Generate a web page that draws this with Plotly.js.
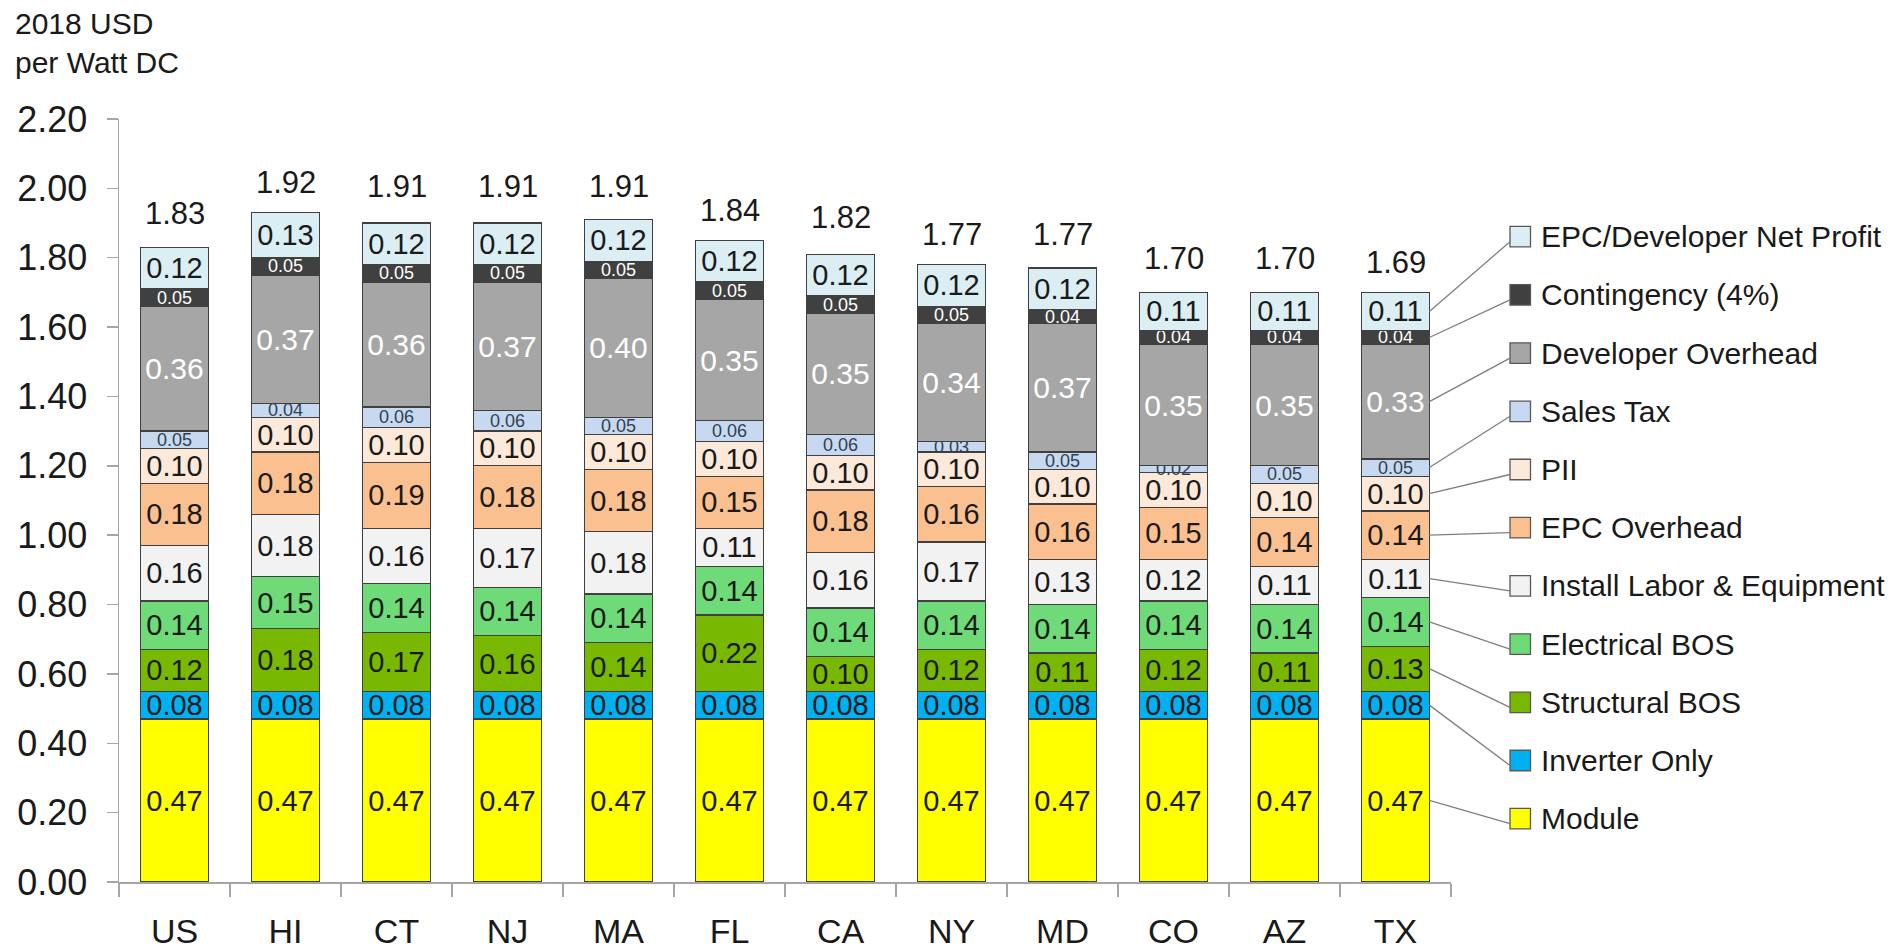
<!DOCTYPE html>
<html>
<head>
<meta charset="utf-8">
<script src="https://cdn.plot.ly/plotly-3.0.1.min.js"></script>
<style>html,body{margin:0;padding:0;background:#fff;}#chart{width:1897px;height:951px;}</style>
</head>
<body>
<div id="chart"></div>
<script>
// ---------------- DATA ----------------
const states = ["US","HI","CT","NJ","MA","FL","CA","NY","MD","CO","AZ","TX"];

// series, bottom of stack to top
const module_      = [0.47,0.47,0.47,0.47,0.47,0.47,0.47,0.47,0.47,0.47,0.47,0.47];
const inverterOnly = [0.08,0.08,0.08,0.08,0.08,0.08,0.08,0.08,0.08,0.08,0.08,0.08];
const structuralBOS= [0.12,0.18,0.17,0.16,0.14,0.22,0.10,0.12,0.11,0.12,0.11,0.13];
const electricalBOS= [0.14,0.15,0.14,0.14,0.14,0.14,0.14,0.14,0.14,0.14,0.14,0.14];
const installLabor = [0.16,0.18,0.16,0.17,0.18,0.11,0.16,0.17,0.13,0.12,0.11,0.11];
const epcOverhead  = [0.18,0.18,0.19,0.18,0.18,0.15,0.18,0.16,0.16,0.15,0.14,0.14];
const pii          = [0.10,0.10,0.10,0.10,0.10,0.10,0.10,0.10,0.10,0.10,0.10,0.10];
const salesTax     = [0.05,0.04,0.06,0.06,0.05,0.06,0.06,0.03,0.05,0.02,0.05,0.05];
const devOverhead  = [0.36,0.37,0.36,0.37,0.40,0.35,0.35,0.34,0.37,0.35,0.35,0.33];
const contingency  = [0.05,0.05,0.05,0.05,0.05,0.05,0.05,0.05,0.04,0.04,0.04,0.04];
const netProfit    = [0.12,0.13,0.12,0.12,0.12,0.12,0.12,0.12,0.12,0.11,0.11,0.11];
const totals       = [1.83,1.92,1.91,1.91,1.91,1.84,1.82,1.77,1.77,1.70,1.70,1.69];

const seriesNames = ["Module","Inverter Only","Structural BOS","Electrical BOS",
  "Install Labor & Equipment","EPC Overhead","PII","Sales Tax",
  "Developer Overhead","Contingency (4%)","EPC/Developer Net Profit"];
const seriesValues = [module_,inverterOnly,structuralBOS,electricalBOS,installLabor,
  epcOverhead,pii,salesTax,devOverhead,contingency,netProfit];

// ---------------- STYLE ----------------
const colors = ["#FFFF00","#00B0F0","#78B800","#6FDA78","#F2F2F2","#FAC090",
  "#FDE9D9","#C6D9F1","#A6A6A6","#404040","#DAEEF3"];
const labelColors = ["#1a1a1a","#1a1a1a","#1a1a1a","#1a1a1a","#1a1a1a","#1a1a1a",
  "#1a1a1a","#333f4f","#ffffff","#ffffff","#1a1a1a"];
const labelSizes = [29,29,29,29,29,29,29,18,30,18,29];

const W = 1897, H = 951;
const M = {l:119, r:446, t:119, b:69};
const plotW = W - M.l - M.r, plotH = H - M.t - M.b;
const YMAX = 2.2;
const BARGAP = 0.39;
const SANS = "'Liberation Sans',Arial,sans-serif";

const pxX = px => (px - M.l) / plotW;
const pxY = py => (H - M.b - py) / plotH;

// ---------------- TRACES ----------------
const traces = seriesValues.map((vals, i) => ({
  type: "bar",
  name: seriesNames[i],
  x: states,
  y: vals,
  marker: {color: colors[i], line: {color: "#404040", width: 1.3}},
  texttemplate: "%{y:.2f}",
  textposition: "inside",
  insidetextanchor: "middle",
  textangle: 0,
  constraintext: "none",
  cliponaxis: false,
  textfont: {family: SANS, size: labelSizes[i], color: labelColors[i]},
  hoverinfo: "skip",
  showlegend: false
}));

// ---------------- ANNOTATIONS / SHAPES ----------------
const annotations = [];
const shapes = [];

// totals above bars
states.forEach((s, i) => {
  annotations.push({
    xref: "x", yref: "y", x: s, y: totals[i],
    text: totals[i].toFixed(2), showarrow: false,
    yanchor: "bottom", yshift: 14,
    font: {family: SANS, size: 31, color: "#1a1a1a"}
  });
});

// custom legend (top to bottom) with leader lines from last bar
const LEG_TOP_PX = 236.7, LEG_STEP_PX = 58.2;
const SQ_X0 = 1510, SQ_SIZE = 20.5, TXT_X = 1539;
const nCat = states.length;
const last = nCat - 1;
const barEdgePaper = (last + 0.5 + (1 - BARGAP) / 2) / nCat;

const order = seriesNames.map((_, i) => i).reverse();
order.forEach((si, row) => {
  const cy = LEG_TOP_PX + LEG_STEP_PX * row;
  shapes.push({
    type: "rect", xref: "paper", yref: "paper",
    x0: pxX(SQ_X0), x1: pxX(SQ_X0 + SQ_SIZE),
    y0: pxY(cy - SQ_SIZE / 2), y1: pxY(cy + SQ_SIZE / 2),
    fillcolor: colors[si], line: {color: "#595959", width: 1.3}
  });
  annotations.push({
    xref: "paper", yref: "paper", x: pxX(TXT_X), y: pxY(cy),
    xanchor: "left", yanchor: "middle", showarrow: false,
    text: seriesNames[si].replace("&", "&amp;"),
    font: {family: SANS, size: 30, color: "#1a1a1a"}
  });
  // leader line: from the segment midpoint of the last bar to the legend square
  let below = 0;
  for (let k = 0; k < si; k++) below += seriesValues[k][last];
  const mid = below + seriesValues[si][last] / 2;
  shapes.push({
    type: "line", xref: "paper", yref: "paper",
    x0: barEdgePaper, y0: mid / YMAX,
    x1: pxX(SQ_X0), y1: pxY(cy + 5),
    line: {color: "#7f7f7f", width: 1.3}
  });
});

// ---------------- LAYOUT ----------------
const layout = {
  width: W, height: H,
  margin: M,
  paper_bgcolor: "#ffffff", plot_bgcolor: "#ffffff",
  barmode: "stack",
  bargap: BARGAP,
  font: {family: SANS, color: "#1a1a1a"},
  title: {
    text: "2018 USD<br>per Watt DC",
    xref: "container", yref: "container",
    x: 15 / W, xanchor: "left",
    y: 1 - 34 / H, yanchor: "top",
    font: {family: SANS, size: 30, color: "#1a1a1a"}
  },
  xaxis: {
    type: "category", categoryarray: states, range: [-0.5, nCat - 0.5],
    tickson: "boundaries", ticks: "outside", ticklen: 13, tickwidth: 1.5,
    tickcolor: "#A6A6A6", showline: true, linecolor: "#A6A6A6", linewidth: 1.5,
    showgrid: false, zeroline: false,
    tickfont: {family: SANS, size: 34, color: "#1a1a1a"},
    ticklabelstandoff: 19, fixedrange: true
  },
  yaxis: {
    range: [0, YMAX], dtick: 0.2, tick0: 0, tickformat: ".2f",
    ticks: "outside", ticklen: 11, tickwidth: 1.5, tickcolor: "#A6A6A6",
    showline: true, linecolor: "#A6A6A6", linewidth: 1.5,
    showgrid: false, zeroline: false,
    tickfont: {family: SANS, size: 36, color: "#1a1a1a"},
    ticklabelstandoff: 12, fixedrange: true
  },
  annotations: annotations,
  shapes: shapes
};

Plotly.newPlot("chart", traces, layout, {displayModeBar: false, staticPlot: true});
</script>
</body>
</html>
